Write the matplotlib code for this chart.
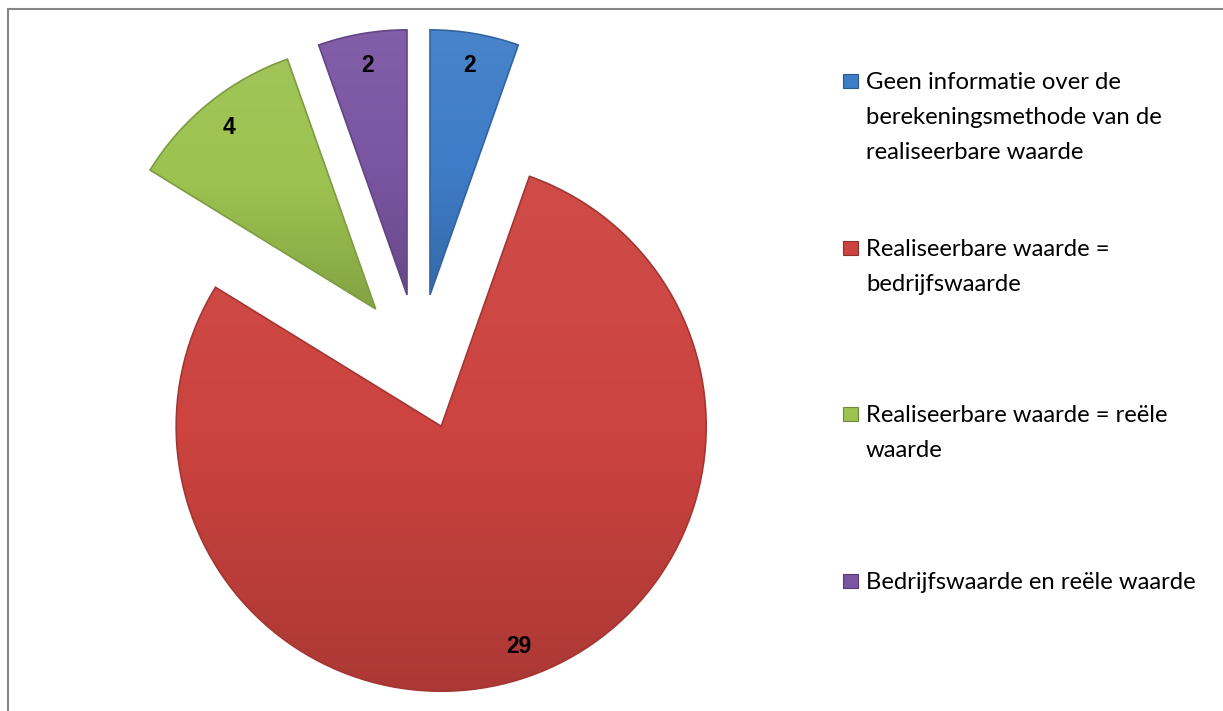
import matplotlib.pyplot as plt
import numpy as np
from matplotlib.colors import LinearSegmentedColormap, to_rgb
from matplotlib.patches import Rectangle

# Categories (legend text, wrapped as in the legend) and counts
categories = [
    "Geen informatie over de\nberekeningsmethode van de\nrealiseerbare waarde",
    "Realiseerbare waarde =\nbedrijfswaarde",
    "Realiseerbare waarde = reële\nwaarde",
    "Bedrijfswaarde en reële waarde",
]
values = [2, 29, 4, 2]
colors = ["#3F7DC8", "#CC433F", "#9CC250", "#7B56A3"]

W, H = 1223, 711
fig = plt.figure(figsize=(W / 100, H / 100), dpi=100)
fig.patch.set_facecolor("white")

# pie geometry in pixels: centre and radius
cx, cy, R = 418.5, H - 362, 265.0
ax = fig.add_axes([0, 0, 1, 1])
ax.axis("off")

total = sum(values)
wedges, _, autotexts = ax.pie(
    values, startangle=90, counterclock=False, radius=1.0,
    explode=[0.257] * len(values), colors=colors,
    autopct=lambda p: f"{round(p * total / 100)}", pctdistance=0.88,
    textprops=dict(fontsize=16.5, fontweight="bold", family="Liberation Sans", color="black"),
    wedgeprops=dict(linewidth=1.2),
)


def shade(c, f):
    r, g, b = to_rgb(c)
    if f > 1:
        return tuple(x + (1 - x) * (f - 1) for x in (r, g, b))
    return tuple(x * f for x in (r, g, b))


# vertical gradient inside every wedge, light at the top, darker at the bottom
for w, c in zip(wedges, colors):
    ext = w.get_path().get_extents()
    cmap = LinearSegmentedColormap.from_list("g", [shade(c, 0.84), shade(c, 1.0), shade(c, 1.05)])
    grad = np.linspace(0, 1, 256).reshape(-1, 1)
    im = ax.imshow(grad, extent=[ext.x0, ext.x1, ext.y0, ext.y1], origin="lower",
                   cmap=cmap, aspect="auto", zorder=w.get_zorder() + 0.1)
    im.set_clip_path(w)
    w.set_edgecolor(shade(c, 0.8))
    w.set_zorder(w.get_zorder() + 0.2)
    w.set_facecolor("none")

for t in autotexts:
    t.set_zorder(5)

ax.set_xlim(-cx / R, (W - cx) / R)
ax.set_ylim(-cy / R, (H - cy) / R)

# chart area border (runs off the right and bottom edges)
fig.add_artist(plt.Line2D([8 / W, 8 / W], [0, 1 - 9 / H], color="#868686", lw=1.5))
fig.add_artist(plt.Line2D([8 / W, 1], [1 - 9 / H, 1 - 9 / H], color="#868686", lw=1.5))

# legend
first_baselines = [89, 256, 422, 589]
line_step = 35
for label, c, yb in zip(categories, colors, first_baselines):
    fig.add_artist(Rectangle((843 / W, 1 - (yb - 1) / H), 15 / W, 14 / H,
                             facecolor=c, edgecolor=shade(c, 0.7), lw=0.8))
    for i, line in enumerate(label.split("\n")):
        fig.text(866 / W, 1 - (yb + i * line_step) / H, line, fontsize=17.2,
                 family="Lato", va="baseline", ha="left", color="black")

fig.savefig("out.png", dpi=100)
